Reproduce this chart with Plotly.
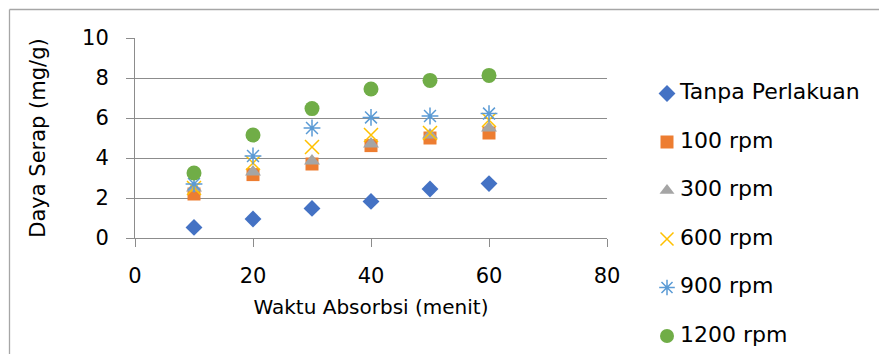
import plotly.graph_objects as go

waktu = [10, 20, 30, 40, 50, 60]
tanpa = [0.53, 0.95, 1.48, 1.83, 2.45, 2.72]
rpm100 = [2.2, 3.17, 3.7, 4.62, 5.0, 5.25]
rpm300 = [2.5, 3.3, 3.85, 4.7, 5.15, 5.5]
rpm600 = [2.5, 3.75, 4.55, 5.15, 5.25, 5.9]
rpm900 = [2.7, 4.1, 5.5, 6.03, 6.1, 6.22]
rpm1200 = [3.25, 5.15, 6.47, 7.45, 7.88, 8.13]

names = ["Tanpa Perlakuan", "100 rpm", "300 rpm", "600 rpm", "900 rpm", "1200 rpm"]
series = [tanpa, rpm100, rpm300, rpm600, rpm900, rpm1200]
x_ticks = [0, 20, 40, 60, 80]
y_ticks = [0, 2, 4, 6, 8, 10]

colors = ["#4472C4", "#ED7D31", "#A5A5A5", "#FFC000", "#5B9BD5", "#70AD47"]
symbols = ["diamond", "square", "triangle-up", "x-thin-open", "asterisk-open", "circle"]
sizes = [13, 13, 14, 14, 14, 15]
leg_sizes = [13, 13, 13, 13, 13, 14]

FONT = "DejaVu Sans"
W, H = 880, 355
ML, MR, MT, MB = 135, 5, 5, 5
PW, PH = W - ML - MR, H - MT - MB  # paper area in px

def px_x(px):
    return (px - ML) / PW

def px_y(py):
    return (H - MB - py) / PH

fig = go.Figure()
for i, (n, s) in enumerate(zip(names, series)):
    line = dict(width=1.5, color=colors[i]) if symbols[i] in ("x-thin-open", "asterisk-open") else dict(width=0)
    fig.add_trace(go.Scatter(
        x=waktu, y=s, name=n, mode="markers", showlegend=False,
        marker=dict(symbol=symbols[i], size=sizes[i], color=colors[i], line=line),
    ))

# manual legend on a helper axis measured in pixels
leg_x0, leg_x1 = 650, W - MR
leg_y = [93.5 + i * 48.5 for i in range(len(names))]
for i, n in enumerate(names):
    line = dict(width=1.5, color=colors[i]) if symbols[i] in ("x-thin-open", "asterisk-open") else dict(width=0)
    fig.add_trace(go.Scatter(
        x=[667], y=[leg_y[i]], mode="markers", xaxis="x2", yaxis="y2",
        showlegend=False, hoverinfo="skip",
        marker=dict(symbol=symbols[i], size=leg_sizes[i], color=colors[i], line=line),
    ))
    fig.add_trace(go.Scatter(
        x=[680], y=[leg_y[i]], mode="text", text=[n], textposition="middle right",
        xaxis="x2", yaxis="y2", showlegend=False, hoverinfo="skip",
        textfont=dict(family=FONT, size=22, color="#000000"),
    ))

grid = "#8c8c8c"
border = "#a6a6a6"
fig.update_layout(
    width=W, height=H,
    margin=dict(l=ML, r=MR, t=MT, b=MB, autoexpand=False),
    paper_bgcolor="white", plot_bgcolor="rgba(0,0,0,0)",
    font=dict(family=FONT, size=20, color="#000000"),
    showlegend=False,
    xaxis=dict(domain=[0, px_x(607)], range=[0, 80], tickvals=x_ticks, showgrid=False,
               zeroline=False, showline=True, linecolor=grid, linewidth=1,
               ticks="outside", ticklen=8, tickcolor=grid, ticklabelstandoff=11,
               tickfont=dict(size=21), automargin=False,
               title=dict(text="Waktu Absorbsi (menit)", standoff=12, font=dict(size=20)),
               anchor="y"),
    yaxis=dict(domain=[px_y(238), px_y(38)], range=[0, 10], tickvals=y_ticks, showgrid=True,
               gridcolor=grid, gridwidth=1, zeroline=False, showline=True,
               linecolor=grid, linewidth=1, ticks="outside", ticklen=8, tickcolor=grid,
               ticklabelstandoff=13, tickfont=dict(size=21), automargin=False,
               title=dict(text="Daya Serap (mg/g)", standoff=30, font=dict(size=21)),
               anchor="x"),
    xaxis2=dict(domain=[px_x(leg_x0), 1], range=[leg_x0, leg_x1], visible=False,
                anchor="y2", fixedrange=True, automargin=False),
    yaxis2=dict(domain=[0, 1], range=[H - MB, MT], visible=False,
                anchor="x2", fixedrange=True, automargin=False),
    shapes=[
        dict(type="line", xref="paper", yref="paper", layer="below",
             x0=px_x(9.5), x1=px_x(879), y0=px_y(9.5), y1=px_y(9.5),
             line=dict(color=border, width=1.3)),
        dict(type="line", xref="paper", yref="paper", layer="below",
             x0=px_x(9.5), x1=px_x(9.5), y0=px_y(9.5), y1=px_y(354),
             line=dict(color=border, width=1.3)),
    ],
)
fig.write_html("out.html", config={"displayModeBar": False},
               post_script="document.body.style.margin='0';document.body.style.overflow='hidden';")
